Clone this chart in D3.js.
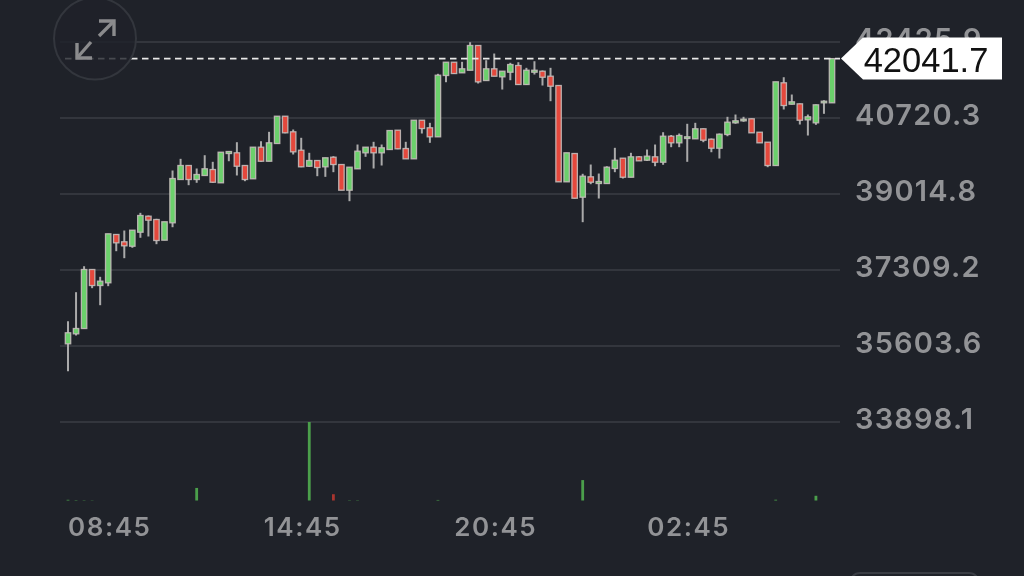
<!DOCTYPE html>
<html>
<head>
<meta charset="utf-8">
<script src="https://cdn.jsdelivr.net/npm/d3@7"></script>
<style>
html,body{margin:0;padding:0;background:#1f2229;overflow:hidden}
svg{display:block;filter:blur(0.45px)}
</style>
</head>
<body>
<svg id="c" width="1024" height="576"></svg>
<script>
// open, high, low, close per 15-minute candle
const opens = [35642,35866,35985,37309,36950,37011,38095,37931,37832,38146,38505,38431,37967,38357,39329,39643,39329,39419,39553,39255,39912,39928,39643,39345,40054,39739,40137,40749,40399,39986,39627,39755,39614,39829,39665,39089,39569,39928,40054,39928,40002,40435,40024,39793,40659,40489,40287,41663,41961,41723,41781,42336,41550,41813,41633,41737,41887,41461,41737,41759,41647,41438,39277,39912,38932,39389,39239,39239,39576,39807,39380,39838,39762,39838,39717,40300,40152,40249,40242,40467,40233,40031,40339,40601,40646,40691,40390,40166,39643,41499,41019,41027,40668,40601,41050,41050];
const highs = [36149,36800,37383,37309,37145,38110,38095,38184,38191,38581,38521,38447,38380,39531,39793,39643,39576,39874,39726,39941,39964,40166,39643,40054,40188,40399,40749,40749,40451,40265,39928,39755,39816,39852,39665,39605,40114,40054,40175,40114,40428,40435,40175,40659,40659,40601,41701,41961,41961,41970,42410,42336,42006,42156,41759,41948,41961,41835,41983,41775,41835,41438,39928,39912,39457,39665,39463,39627,40040,39807,39928,39852,40002,40114,40390,40327,40361,40579,40601,40473,40249,40361,40736,40787,40736,40698,40395,40166,41521,41624,41236,41034,40787,41012,41108,42041.7];
const lows = [35027,35828,35985,36890,36508,36935,37720,37563,37796,38021,38050,37877,37967,38258,39329,39201,39255,39419,39255,39255,39739,39419,39291,39345,39726,39739,40137,40366,39890,39605,39614,39403,39389,39493,39089,38842,39569,39838,39576,39643,39991,40009,39793,39793,40361,40152,40287,41512,41696,41719,41781,41483,41550,41647,41348,41557,41449,41449,41685,41438,41086,39277,39277,38902,38371,39223,38902,39239,39493,39351,39380,39744,39744,39627,39659,40054,40054,39726,40238,40166,39941,39800,40300,40579,40624,40372,40148,39605,39643,40900,41012,40563,40316,40556,40803,41050];
const closes = [35889,35985,37309,36950,37047,38110,37908,37841,38191,38521,38416,37960,38380,39351,39643,39329,39441,39569,39268,39941,39957,39627,39329,40054,39739,40152,40749,40377,39950,39614,39755,39598,39816,39665,39089,39605,39964,40054,39928,40040,40428,40018,39793,40659,40473,40287,41669,41961,41707,41813,42336,41521,41813,41647,41759,41909,41461,41781,41781,41624,41422,39277,39928,38909,39403,39268,39284,39605,39762,39380,39838,39748,39852,39717,40300,40152,40316,40287,40467,40211,40031,40345,40615,40646,40682,40377,40152,39643,41521,40989,41072,40659,40736,41005,41086,42041.7];

// relative volume by candle index
const volumeIndex = [0,1,2,3,16,30,33,35,36,46,64,88,93];
const volumeValues = [0.9,0.5,0.4,0.3,16,100,8,0.4,0.4,0.7,26,1,6];

const priceTicks = [33898.1,35603.6,37309.2,39014.8,40720.3,42425.9];
const timeTickIndex = [5,29,53,77];
const timeLabels = ["08:45","14:45","20:45","02:45"];
const lastPrice = 42041.7;

const svg = d3.select("#c");
const indices = d3.range(opens.length);
const x = d3.scaleLinear().domain([0, opens.length - 1]).range([68, 832]);
const y = d3.scaleLinear().domain([priceTicks[0], priceTicks[5]]).range([421.5, 41.5]);
const vol = d3.scaleLinear().domain([0, 100]).range([500.5, 422]);

const GREEN = "#6bd06b", RED = "#e4483c", WICK = "#aaaaaa", EDGE = "#c4bdba", GRID = "#3b3e45";

// y axis: gridlines + labels
const yAxis = svg.append("g").attr("transform", "translate(840,0)")
  .call(d3.axisRight(y).tickValues(priceTicks).tickSize(-780).tickPadding(15).tickFormat(d3.format(".1f")));
yAxis.select(".domain").remove();
yAxis.selectAll("line").attr("stroke", GRID).attr("stroke-width", 1.6);
yAxis.selectAll("text").attr("fill", "#929396").attr("dy", "0.32em")
  .attr("transform", "translate(0,-2)")
  .style("font", "600 29px Inter, sans-serif").style("letter-spacing", "1.2px");

// time axis
const xAxis = svg.append("g").attr("transform", "translate(1,505)")
  .call(d3.axisBottom(x).tickValues(timeTickIndex).tickSize(0).tickPadding(13)
    .tickFormat((d, i) => timeLabels[i]));
xAxis.select(".domain").remove();
xAxis.selectAll("text").attr("fill", "#929396")
  .style("font", "600 26px Inter, sans-serif").style("letter-spacing", "1.5px");

// volume
svg.append("g").selectAll("rect").data(volumeIndex).join("rect")
  .attr("x", d => x(d) - 1.4).attr("width", 2.8)
  .attr("y", (d, i) => vol(volumeValues[i]))
  .attr("height", (d, i) => vol(0) - vol(volumeValues[i]))
  .attr("fill", d => d === 33 ? "#a8352f" : "#4b9f4b");

// candles
const wicks = svg.append("g");
wicks.selectAll("line").data(indices).join("line")
  .attr("x1", x).attr("x2", x)
  .attr("y1", i => y(highs[i])).attr("y2", i => y(lows[i]))
  .attr("stroke", WICK).attr("stroke-width", 2);
svg.append("g").selectAll("rect").data(indices).join("rect")
  .attr("x", i => x(i) - 2.7).attr("width", 5.4)
  .attr("y", i => y(Math.max(opens[i], closes[i])))
  .attr("height", i => Math.max(0.6, Math.abs(y(opens[i]) - y(closes[i]))))
  .attr("fill", i => closes[i] >= opens[i] ? GREEN : RED)
  .attr("stroke", EDGE).attr("stroke-width", 1.3).attr("stroke-opacity", 0.9);

// last-price line and tag
svg.append("line")
  .attr("x1", 65).attr("x2", 840).attr("y1", y(lastPrice)).attr("y2", y(lastPrice))
  .attr("stroke", "#e8e8e8").attr("stroke-width", 1.9).attr("stroke-dasharray", "6.5 4.5");
const tagY = y(lastPrice);
svg.append("path")
  .attr("d", d3.line()([[841, tagY], [863, tagY - 21], [1002, tagY - 21], [1002, tagY + 21], [863, tagY + 21]]) + "Z")
  .attr("fill", "#ffffff");
svg.append("text").attr("x", 926).attr("y", tagY + 1).attr("text-anchor", "middle")
  .attr("dominant-baseline", "central").attr("fill", "#111111")
  .style("font", "34.5px 'Liberation Sans', sans-serif").text(lastPrice.toFixed(1));

// expand button
const btn = svg.append("g");
btn.append("circle").attr("cx", 95).attr("cy", 38.5).attr("r", 41)
  .attr("fill", "#1f2229").attr("fill-opacity", 0.8).attr("stroke", "#33363d").attr("stroke-width", 2);
const arrow = d3.line();
const ICON = "#8b8b8d";
const iconPaths = [
  [[99,36],[114,21]], [[99,21],[114,21],[114,36]],
  [[91,42],[77,58]], [[77,43],[77,58],[92,58]]
];
iconPaths.forEach(p => btn.append("path").attr("d", arrow(p)).attr("fill", "none")
  .attr("stroke", ICON).attr("stroke-width", 3.4));

// bottom-right button, cut by the frame
svg.append("rect").attr("x", 850).attr("y", 573).attr("width", 129).attr("height", 40).attr("rx", 10)
  .attr("fill", "none").attr("stroke", "#3a3d44").attr("stroke-width", 2);
</script>
</body>
</html>
